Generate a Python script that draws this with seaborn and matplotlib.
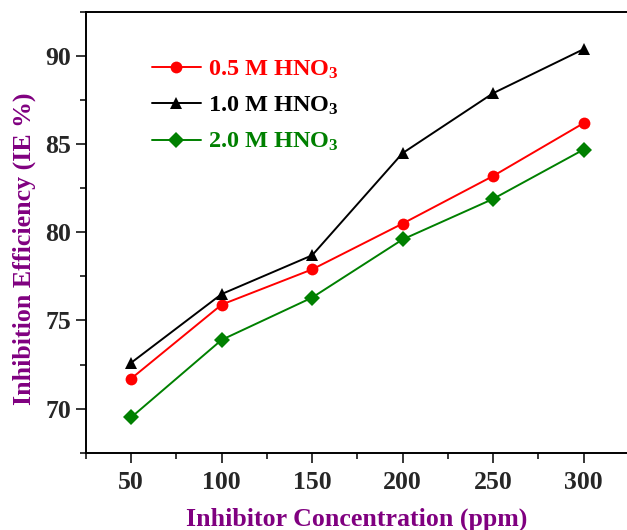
import matplotlib
matplotlib.use("Agg")
import matplotlib.pyplot as plt
import seaborn as sns
import pandas as pd
from matplotlib.ticker import MultipleLocator

conc = [50, 100, 150, 200, 250, 300]
ie_05 = [71.7, 75.9, 77.9, 80.5, 83.2, 86.2]
ie_10 = [72.6, 76.5, 78.7, 84.5, 87.9, 90.4]
ie_20 = [69.5, 73.9, 76.3, 79.6, 81.9, 84.7]
labels = ["0.5 M HNO$_{3}$", "1.0 M HNO$_{3}$", "2.0 M HNO$_{3}$"]
colors = ["#ff0000", "#000000", "#008000"]
markers = ["o", "^", "D"]

sns.set_style("ticks")
plt.rcParams["font.family"] = ["Liberation Serif", "DejaVu Serif"]
plt.rcParams["font.weight"] = "bold"
plt.rcParams["mathtext.default"] = "regular"

df = pd.concat([
    pd.DataFrame({"conc": conc, "ie": vals, "series": lab})
    for vals, lab in zip([ie_05, ie_10, ie_20], labels)
])

fig = plt.figure(figsize=(6.27, 5.30), dpi=100)
ax = fig.add_axes([0.137, 0.146, 0.863, 0.831])

sns.lineplot(data=df, x="conc", y="ie", hue="series", style="series",
             palette=dict(zip(labels, colors)),
             markers=dict(zip(labels, markers)), dashes=False,
             markersize=8.5, linewidth=1.4, markeredgewidth=0, ax=ax)

ax.set_xlim(25, 324)
ax.set_ylim(67.5, 92.5)
ax.xaxis.set_major_locator(MultipleLocator(50))
ax.xaxis.set_minor_locator(MultipleLocator(25))
ax.yaxis.set_major_locator(MultipleLocator(5))
ax.yaxis.set_minor_locator(MultipleLocator(2.5))
ax.tick_params(which="major", direction="out", length=7, width=1.3, labelsize=18.5)
ax.tick_params(axis="x", which="major", pad=6)
ax.tick_params(axis="y", which="major", pad=3.5)
ax.tick_params(which="minor", direction="out", length=4, width=1.3)
for lab in ax.get_xticklabels() + ax.get_yticklabels():
    lab.set_fontweight("bold")
for s in ["left", "bottom", "top"]:
    ax.spines[s].set_linewidth(1.4)
    ax.spines[s].set_color("black")
ax.spines["right"].set_visible(False)

ax.set_xlabel("Inhibitor Concentration (ppm)", fontsize=18.6, fontweight="bold",
              color="#800080", labelpad=10)
ax.set_ylabel("Inhibition Efficiency (IE %)", fontsize=18.6, fontweight="bold",
              color="#800080")
ax.yaxis.set_label_coords(-0.093, 0.464)

leg = ax.legend(loc="upper left", bbox_to_anchor=(0.082, 0.944), frameon=False,
                handlelength=2.0, labelspacing=0.57, handletextpad=0.3,
                prop={"weight": "bold", "size": 17.5})
for txt, c in zip(leg.get_texts(), colors):
    txt.set_color(c)

fig.savefig("out.png", dpi=100)
